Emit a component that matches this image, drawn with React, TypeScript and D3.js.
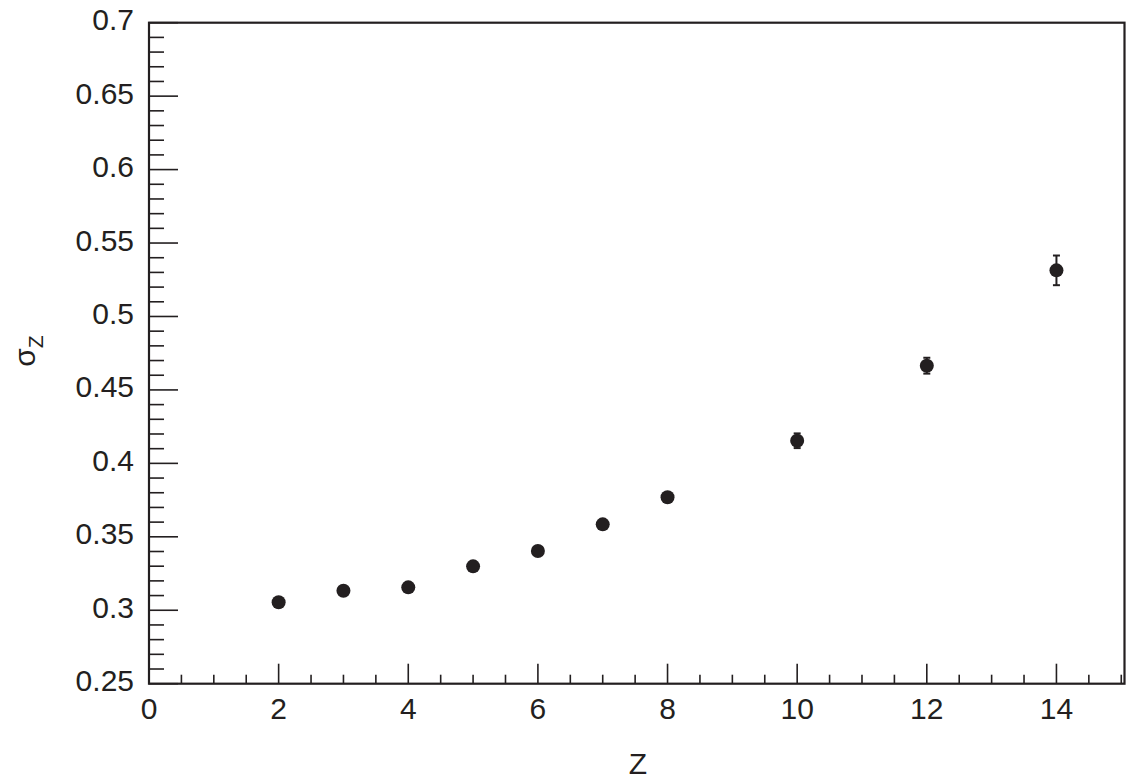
import React from "react";
import * as d3 from "d3";

const zValues = [2, 3, 4, 5, 6, 7, 8, 10, 12, 14];
const sigmaValues = [0.3054, 0.3133, 0.3156, 0.3299, 0.3403, 0.3585, 0.3769, 0.4154, 0.4665, 0.5314];
const sigmaErrors = [0.001, 0.001, 0.001, 0.0015, 0.0015, 0.002, 0.002, 0.005, 0.0054, 0.0101];
const xMajorTicks = [0, 2, 4, 6, 8, 10, 12, 14];
const yMajorTicks = [0.25, 0.3, 0.35, 0.4, 0.45, 0.5, 0.55, 0.6, 0.65, 0.7];
const yTickLabels = ["0.25", "0.3", "0.35", "0.4", "0.45", "0.5", "0.55", "0.6", "0.65", "0.7"];

const W = 1138;
const H = 782;
const left = 149;
const right = 1124.5;
const top = 22.7;
const bottom = 683.7;
const ink = "#231f20";
const font = "'Liberation Sans', Arial, Helvetica, sans-serif";

export default function App() {
  const x = d3.scaleLinear().domain([0, 15.05]).range([left, right]);
  const y = d3.scaleLinear().domain([0.25, 0.7]).range([bottom, top]);

  const xMinor = d3.range(0, 15.001, 0.5).filter((v) => !xMajorTicks.includes(v));
  const yMinor = d3
    .range(0, 46)
    .map((i) => 0.25 + i * 0.01)
    .filter((v) => !yMajorTicks.some((m) => Math.abs(m - v) < 1e-6));

  return (
    <svg
      width={W}
      height={H}
      style={{ position: "absolute", left: 0, top: 0, background: "#fff" }}
      fontFamily={font}
    >
      <rect x={0} y={0} width={W} height={H} fill="#fff" />
      {/* x ticks */}
      {xMinor.map((v) => (
        <line key={"xm" + v} x1={x(v)} x2={x(v)} y1={bottom} y2={bottom - 9} stroke={ink} strokeWidth={1.6} />
      ))}
      {xMajorTicks.map((v) => (
        <line key={"xM" + v} x1={x(v)} x2={x(v)} y1={bottom} y2={bottom - 20} stroke={ink} strokeWidth={1.6} />
      ))}
      {/* y ticks */}
      {yMinor.map((v) => (
        <line key={"ym" + v} x1={left} x2={left + 15} y1={y(v)} y2={y(v)} stroke={ink} strokeWidth={1.6} />
      ))}
      {yMajorTicks.map((v) => (
        <line key={"yM" + v} x1={left} x2={left + 29} y1={y(v)} y2={y(v)} stroke={ink} strokeWidth={1.6} />
      ))}
      {/* frame */}
      <rect x={left} y={top} width={right - left} height={bottom - top} fill="none" stroke={ink} strokeWidth={2.2} />
      {/* tick labels */}
      {xMajorTicks.map((v) => (
        <text key={"xl" + v} x={x(v)} y={719} textAnchor="middle" fontSize={30} fill={ink}>
          {String(v)}
        </text>
      ))}
      {yMajorTicks.map((v, i) => (
        <text key={"yl" + v} x={134} y={y(v) + 7.5} textAnchor="end" fontSize={30} fill={ink}>
          {yTickLabels[i]}
        </text>
      ))}
      {/* axis titles */}
      <text x={638} y={774} textAnchor="middle" fontSize={30} fill={ink}>
        Z
      </text>
      <text transform="translate(35,351) rotate(-90)" textAnchor="middle" fontSize={30} fill={ink}>
        σ
        <tspan dy={8} fontSize={21}>
          Z
        </tspan>
      </text>
      {/* data */}
      {zValues.map((z, i) => {
        const cx = x(z);
        const cy = y(sigmaValues[i]);
        const y1 = y(sigmaValues[i] + sigmaErrors[i]);
        const y2 = y(sigmaValues[i] - sigmaErrors[i]);
        return (
          <g key={"p" + z}>
            <line x1={cx} x2={cx} y1={y1} y2={y2} stroke={ink} strokeWidth={2} />
            <line x1={cx - 3.5} x2={cx + 3.5} y1={y1} y2={y1} stroke={ink} strokeWidth={2} />
            <line x1={cx - 3.5} x2={cx + 3.5} y1={y2} y2={y2} stroke={ink} strokeWidth={2} />
            <circle cx={cx} cy={cy} r={7} fill={ink} />
          </g>
        );
      })}
    </svg>
  );
}
